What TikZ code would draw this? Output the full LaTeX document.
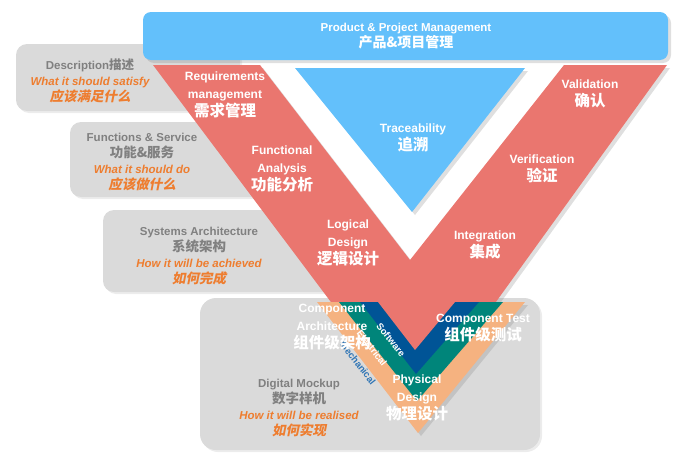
\documentclass[tikz,border=0pt]{standalone}
\usepackage{fontspec}
\setmainfont{Liberation Sans}
\newfontfamily\cjk{Noto Sans CJK SC}
\newfontfamily\cjksl{Noto Sans CJK SC}[FakeSlant=0.2]
\usetikzlibrary{shadows}
\definecolor{barblue}{RGB}{99,192,251}
\definecolor{vred}{RGB}{234,118,111}
\definecolor{dblue}{RGB}{0,84,150}
\definecolor{vteal}{RGB}{0,133,122}
\definecolor{vorange}{RGB}{245,178,128}
\definecolor{otext}{RGB}{238,125,47}
\definecolor{gtext}{RGB}{128,128,128}
\definecolor{gbox}{RGB}{218,218,218}
\definecolor{mtext}{RGB}{47,117,181}
\newcommand\zhw[1]{{\fontsize{15.5}{18}\selectfont\cjk\bfseries #1}}
\newcommand\zho[1]{{\fontsize{13.5}{16}\selectfont\cjksl\bfseries #1}}
\newcommand\zhg[1]{{\fontsize{13.5}{16}\selectfont\cjk #1}}
\begin{document}
\begin{tikzpicture}[x=1pt,y=-1pt,
  graybox/.style={fill=gbox,rounded corners=11pt,drop shadow={shadow xshift=2pt,shadow yshift=-2pt,opacity=0.15}},
  shade/.style={drop shadow={shadow xshift=3pt,shadow yshift=-3pt,opacity=0.25}},
  wlabel/.style={text=white,align=center,font=\fontsize{12}{18}\selectfont\bfseries,inner sep=0pt},
  glabel/.style={text=gtext,align=center,font=\fontsize{11.5}{16}\selectfont\bfseries,inner sep=0pt},
  band/.style={font=\fontsize{9.5}{10}\selectfont\bfseries,rotate=-52,inner sep=0pt}]
\useasboundingbox (0,0) rectangle (694,463);
% gray boxes
\path[graybox] (16,44) rectangle (240,111);
\path[graybox] (70,122) rectangle (290,197);
\path[graybox] (103,210) rectangle (350,292);
\path[graybox,rounded corners=16pt] (200,298) rectangle (540,450);
% red V
\path[fill=vred,shade] (153,65) -- (260,65) -- (410,260) -- (564,65) -- (667,65) -- (415,414) -- cycle;
% bands
\path[fill=vorange,shade] (317,302) -- (418,433) -- (525,302) -- cycle;
\path[fill=vteal] (339,302) -- (417,401) -- (503,302) -- cycle;
\path[fill=dblue] (360,302) -- (416,374) -- (479,302) -- cycle;
\path[fill=vred] (378,302) -- (415,350) -- (455,302) -- cycle;
% traceability triangle
\path[fill=barblue,shade] (295,68) -- (525,68) -- (412,212) -- cycle;
% top bar
\path[fill=barblue,rounded corners=8pt,shade] (143,12) rectangle (668,60);
% top bar text
\node[wlabel,font=\fontsize{11.5}{16}\selectfont\bfseries] (pm) at (406,36) {Product \& Project Management\\{\fontsize{14}{16}\selectfont\cjk\bfseries 产品\&项目管理}};
% gray box texts
\node[glabel] (desc) at (90,81) {Description{\fontsize{12.5}{16}\selectfont\cjk\bfseries 描述}\\{\color{otext}\itshape What it should satisfy}\\{\color{otext}\zho{应该满足什么}}};
\node[glabel] (func) at (142,162) {Functions \& Service\\\zhg{功能\&服务}\\{\color{otext}\itshape What it should do}\\{\color{otext}\zho{应该做什么}}};
\node[glabel] (sys) at (199,256) {Systems Architecture\\\zhg{系统架构}\\{\color{otext}\itshape How it will be achieved}\\{\color{otext}\zho{如何完成}}};
\node[glabel] (dmu) at (299,408) {Digital Mockup\\\zhg{数字样机}\\{\color{otext}\itshape How it will be realised}\\{\color{otext}\zho{如何实现}}};
% V labels
\node[wlabel] (req) at (225,95) {Requirements\\management\\\zhw{需求管理}};
\node[wlabel] (fa) at (282,169) {Functional\\Analysis\\\zhw{功能分析}};
\node[wlabel] (ld) at (348,243) {Logical\\Design\\\zhw{逻辑设计}};
\node[wlabel] (tr) at (413,138) {Traceability\\\zhw{追溯}};
\node[wlabel] (val) at (590,94) {Validation\\\zhw{确认}};
\node[wlabel] (ver) at (542,169) {Verification\\\zhw{验证}};
\node[wlabel] (int) at (485,245) {Integration\\\zhw{集成}};
\node[wlabel] (ct) at (483,328) {Component Test\\\zhw{组件级测试}};
\node[wlabel] (pd) at (417,398) {Physical\\Design\\\zhw{物理设计}};
% band labels
\node[band,text=white] (sw) at (391,340) {Software};
\node[band,text=white] (el) at (372,348) {Electrical};
\node[band,text=mtext] (me) at (358,363) {Mechanical};
\node[wlabel] (ca) at (332,327) {Component\\Architecture\\\zhw{组件级架构}};
\end{tikzpicture}
\end{document}
